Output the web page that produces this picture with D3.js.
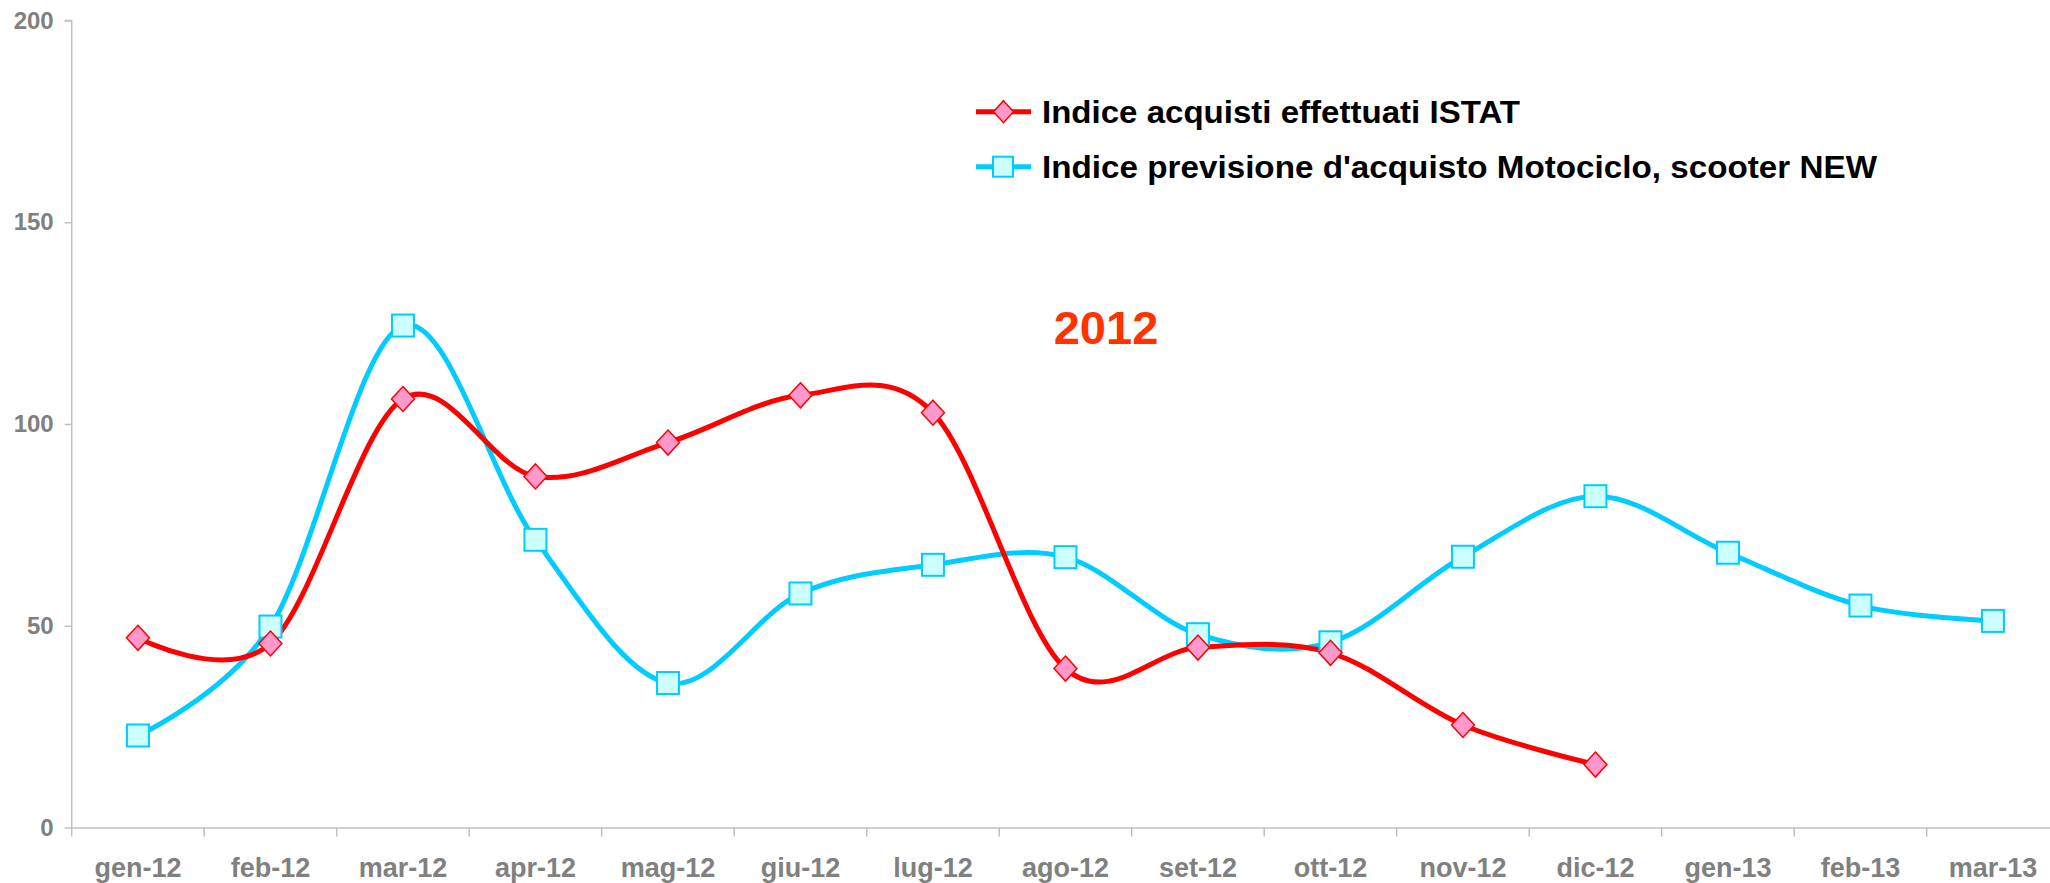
<!DOCTYPE html>
<html lang="it">
<head>
<meta charset="utf-8">
<title>Indice acquisti 2012</title>
<script src="https://cdn.jsdelivr.net/npm/d3@7"></script>
<style>
  body { margin: 0; background: #fff; }
  svg { display: block; font-family: "Liberation Sans", Arial, sans-serif; }
</style>
</head>
<body>
<svg id="chart" width="2050" height="883"></svg>
<script>
// categorie (mesi)
var months = ["gen-12","feb-12","mar-12","apr-12","mag-12","giu-12","lug-12","ago-12",
              "set-12","ott-12","nov-12","dic-12","gen-13","feb-13","mar-13"];

// Indice acquisti effettuati ISTAT (fino a dic-12)
var istat = [47, 45.6, 106.2, 87, 95.4, 107.1, 102.8, 39.4, 44.6, 43.3, 25.4, 15.6];

// Indice previsione d'acquisto Motociclo, scooter NEW
var previsione = [22.8, 49.8, 124.4, 71.3, 35.8, 58, 65.1, 67, 47.9, 45.9, 67.1, 82.1, 68.1, 55, 51.2];

var yTicks = [0, 50, 100, 150, 200];
var seriesNames = ["Indice acquisti effettuati ISTAT", "Indice previsione d'acquisto Motociclo, scooter NEW"];

var svg = d3.select("#chart");
var plotLeft = 71.7, plotBottom = 827.5, plotTop = 20.5, band = 132.5;

var x = d3.scaleBand().domain(months).range([plotLeft, plotLeft + band * months.length]).padding(0);
var y = d3.scaleLinear().domain([0, 200]).range([plotBottom, plotTop]);
var cx = function(i) { return x(months[i]) + x.bandwidth() / 2; };

var axisColor = "#c0c0c0", labelColor = "#808080";

// asse y
var yAxis = svg.append("g")
    .attr("transform", "translate(" + plotLeft + ",0)")
    .call(d3.axisLeft(y).tickValues(yTicks).tickSize(7).tickPadding(11));
yAxis.select(".domain").attr("stroke", axisColor).attr("stroke-width", 1.5)
    .attr("d", "M-7," + plotTop + "H0V" + (plotBottom + 9));
yAxis.selectAll(".tick line").attr("stroke", axisColor).attr("stroke-width", 1.5);
yAxis.selectAll(".tick text").attr("fill", labelColor)
    .style("font-size", "24px").style("font-weight", "bold");

// asse x
var xAxis = svg.append("g")
    .attr("transform", "translate(0," + plotBottom + ")")
    .call(d3.axisBottom(x).tickSize(0).tickPadding(0));
xAxis.select(".domain").attr("stroke", axisColor).attr("stroke-width", 1.5);
xAxis.selectAll(".tick text").attr("fill", labelColor)
    .attr("y", 49).attr("dy", 0)
    .style("font-size", "27px").style("font-weight", "bold");
// tacche ai bordi delle categorie
xAxis.selectAll(".sep")
    .data(months.slice(1).concat(["end"]))
    .enter().append("line")
    .attr("x1", function(d) { return d === "end" ? x.range()[1] : x(d); })
    .attr("x2", function(d) { return d === "end" ? x.range()[1] : x(d); })
    .attr("y1", 0).attr("y2", 9)
    .attr("stroke", axisColor).attr("stroke-width", 1.5);

var line = d3.line()
    .x(function(d, i) { return cx(i); })
    .y(function(d) { return y(d); })
    .curve(d3.curveCardinal.tension(0));

function diamond(px, py, hw, hh) {
  return "M" + px + "," + (py - hh) + "L" + (px + hw) + "," + py +
         "L" + px + "," + (py + hh) + "L" + (px - hw) + "," + py + "Z";
}

// serie previsione (ciano)
svg.append("path").datum(previsione)
    .attr("d", line).attr("fill", "none")
    .attr("stroke", "#00ccff").attr("stroke-width", 5);

// serie ISTAT (rosso)
svg.append("path").datum(istat)
    .attr("d", line).attr("fill", "none")
    .attr("stroke", "#ff0000").attr("stroke-width", 5);

var sq = 22;
svg.selectAll(".sq").data(previsione).enter().append("rect")
    .attr("x", function(d, i) { return cx(i) - sq / 2; })
    .attr("y", function(d) { return y(d) - sq / 2; })
    .attr("width", sq).attr("height", sq)
    .attr("fill", "#ccffff").attr("stroke", "#00ccff").attr("stroke-width", 2);

svg.selectAll(".dm").data(istat).enter().append("path")
    .attr("d", function(d, i) { return diamond(cx(i), y(d), 11.5, 12.5); })
    .attr("fill", "#ff99cc").attr("stroke", "#ff0000").attr("stroke-width", 1.5);

// legenda
var leg = svg.append("g");
leg.append("line").attr("x1", 976).attr("x2", 1031).attr("y1", 111.7).attr("y2", 111.7)
    .attr("stroke", "#ff0000").attr("stroke-width", 5);
leg.append("path").attr("d", diamond(1003.5, 111.7, 10, 11))
    .attr("fill", "#ff99cc").attr("stroke", "#ff0000").attr("stroke-width", 1.5);
leg.append("line").attr("x1", 976).attr("x2", 1031).attr("y1", 166.7).attr("y2", 166.7)
    .attr("stroke", "#00ccff").attr("stroke-width", 5);
leg.append("rect").attr("x", 993).attr("y", 156.7).attr("width", 20).attr("height", 20)
    .attr("fill", "#ccffff").attr("stroke", "#00ccff").attr("stroke-width", 2);
[478, 835].forEach(function(w, i) {
  leg.append("text").attr("x", 1042).attr("y", 123 + i * 55)
      .attr("textLength", w).attr("lengthAdjust", "spacingAndGlyphs")
      .style("font-size", "32px").style("font-weight", "bold").attr("fill", "#000")
      .text(seriesNames[i]);
});

// etichetta anno
svg.append("text").attr("x", 1106).attr("y", 344)
    .attr("text-anchor", "middle").attr("fill", "#ff3300")
    .style("font-size", "47px").style("font-weight", "bold")
    .text("2012");
</script>
</body>
</html>
